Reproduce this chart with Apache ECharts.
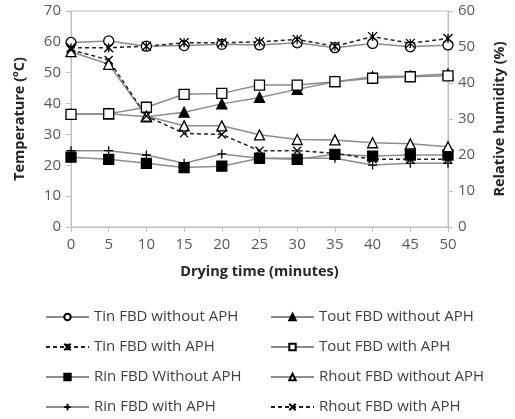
<!DOCTYPE html>
<html>
<head>
<meta charset="utf-8">
<script src="https://cdn.jsdelivr.net/npm/echarts@6/dist/echarts.min.js"></script>
<style>
  html, body { margin: 0; padding: 0; background: #fff; }
  #chart { width: 515px; height: 419px; }
</style>
</head>
<body>
<div id="chart"></div>
<script>
// 数据
var times = ['0', '5', '10', '15', '20', '25', '30', '35', '40', '45', '50'];
var tempTicks = [0, 10, 20, 30, 40, 50, 60, 70];
var rhTicks = [0, 10, 20, 30, 40, 50, 60];

var tinNoAph = [59.8, 60.3, 58.6, 58.8, 59.2, 59.0, 59.7, 58.1, 59.5, 58.4, 59.0];
var tinAph = [58.1, 58.1, 58.6, 59.7, 59.7, 60.0, 60.8, 58.6, 61.7, 59.5, 61.1];
var toutNoAph = [36.5, 36.7, 35.7, 37.2, 39.9, 42.0, 44.6, 47.1, 48.7, 48.9, 49.6];
var toutAph = [36.5, 36.7, 38.8, 43.0, 43.3, 46.0, 46.0, 47.1, 48.2, 48.7, 49.0];
var rinNoAph = [19.4, 18.8, 17.7, 16.5, 16.9, 19.1, 18.8, 20.2, 19.7, 20.0, 20.0];
var rinAph = [21.2, 21.2, 20.0, 17.7, 20.3, 19.1, 19.1, 19.1, 17.2, 17.7, 17.7];
var rhoutNoAph = [48.7, 45.2, 30.8, 28.1, 28.1, 25.6, 24.3, 24.2, 23.4, 23.1, 22.3];
var rhoutAph = [49.2, 46.4, 30.8, 26.0, 25.7, 21.2, 21.2, 20.5, 18.8, 18.8, 18.8];

var myChart = echarts.init(document.getElementById('chart'));

var font = 'Open Sans';
var axisGray = '#bfbfbf';
var lineGray = '#8c8c8c';

// 自定义标记
var starPath = 'path://M0,0L10,10M10,0L0,10M5,0L5,10';
var crossPath = 'path://M0,0L10,10M10,0L0,10';
var plusPath = 'path://M5,0L5,10M0,5L10,5';

function mk(name, data, axis, symbol, fill, dashed, size) {
  return {
    name: name,
    type: 'line',
    yAxisIndex: axis,
    data: data,
    symbol: symbol,
    symbolSize: size || 9,
    showAllSymbol: true,
    lineStyle: {
      color: dashed ? '#222' : lineGray,
      width: 1.5,
      type: dashed ? [4, 3] : 'solid'
    },
    itemStyle: {
      color: fill,
      borderColor: '#000',
      borderWidth: 1.3
    },
    emphasis: { disabled: true }
  };
}

// 图例样式
function legendCol(left, names) {
  return {
    orient: 'vertical', left: left, top: 309,
    padding: 0,
    itemWidth: 43, itemHeight: 8, itemGap: 14,
    textStyle: { fontSize: 15, color: '#404040', lineHeight: 16, fontFamily: font },
    data: names
  };
}

var option = {
  animation: false,
  textStyle: { fontFamily: font },
  grid: {
    left: 71, right: 61, top: 11, bottom: 192,
    show: true, borderColor: axisGray, borderWidth: 1
  },
  legend: [
    legendCol(45, ['Tin FBD without APH', 'Tin FBD with APH', 'Rin FBD Without APH', 'Rin FBD with APH']),
    legendCol(270, ['Tout FBD without APH', 'Tout FBD with APH', 'Rhout FBD without APH', 'Rhout FBD with APH'])
  ],
  xAxis: {
    type: 'category',
    data: times,
    boundaryGap: false,
    name: 'Drying time (minutes)',
    nameLocation: 'middle',
    nameGap: 37,
    nameTextStyle: { fontSize: 14.5, fontWeight: 'bold', color: '#262626' },
    axisLine: { lineStyle: { color: axisGray } },
    axisTick: { show: true, length: 5, lineStyle: { color: axisGray } },
    axisLabel: { fontSize: 15, color: '#595959', margin: 10 },
    splitLine: { show: false }
  },
  yAxis: [
    {
      type: 'value',
      min: tempTicks[0], max: tempTicks[tempTicks.length - 1], interval: 10,
      name: 'Temperature (ºC)',
      nameLocation: 'middle',
      nameGap: 44,
      nameTextStyle: { fontSize: 14.5, fontWeight: 'bold', color: '#262626' },
      axisLine: { show: true, lineStyle: { color: axisGray } },
      axisTick: { show: true, length: 5, lineStyle: { color: axisGray } },
      axisLabel: { fontSize: 15, color: '#595959', margin: 10 },
      splitLine: { show: false }
    },
    {
      type: 'value',
      min: rhTicks[0], max: rhTicks[rhTicks.length - 1], interval: 10,
      name: 'Relative humidity (%)',
      nameLocation: 'middle',
      nameGap: 44,
      nameRotate: 90,
      nameTextStyle: { fontSize: 14.5, fontWeight: 'bold', color: '#262626' },
      axisLine: { show: true, lineStyle: { color: axisGray } },
      axisTick: { show: true, length: 5, lineStyle: { color: axisGray } },
      axisLabel: { fontSize: 15, color: '#595959', margin: 10 },
      splitLine: { show: false }
    }
  ],
  series: [
    mk('Tin FBD without APH', tinNoAph, 0, 'circle', '#fff', false, 10),
    mk('Tin FBD with APH', tinAph, 0, starPath, 'none', true, 9),
    mk('Rin FBD Without APH', rinNoAph, 1, 'rect', '#000', false, 10),
    mk('Rin FBD with APH', rinAph, 1, plusPath, 'none', false, 9),
    mk('Tout FBD without APH', toutNoAph, 0, 'triangle', '#000', false, 10),
    mk('Tout FBD with APH', toutAph, 0, 'rect', '#fff', false, 10),
    mk('Rhout FBD without APH', rhoutNoAph, 1, 'triangle', '#fff', false, 10),
    mk('Rhout FBD with APH', rhoutAph, 1, crossPath, 'none', true, 8)
  ]
};

myChart.setOption(option);
</script>
</body>
</html>
